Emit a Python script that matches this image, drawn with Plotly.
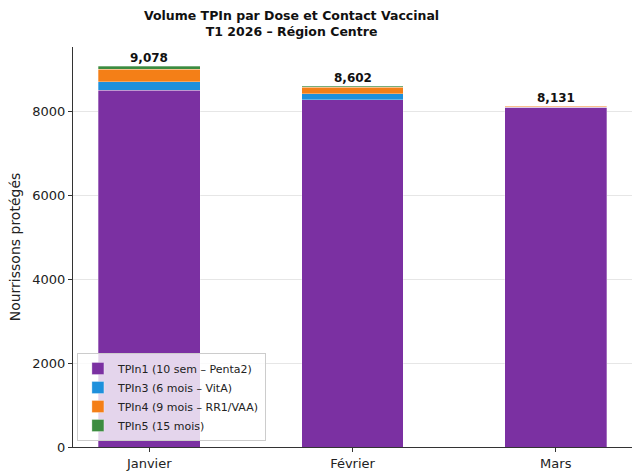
import plotly.graph_objects as go

months = ["Janvier", "Février", "Mars"]
tpin1 = [8500, 8270, 8100]
tpin3 = [200, 150, 0]
tpin4 = [300, 150, 20]
tpin5 = [78, 32, 11]
series_names = ["TPIn1 (10 sem – Penta2)", "TPIn3 (6 mois – VitA)",
                "TPIn4 (9 mois – RR1/VAA)", "TPIn5 (15 mois)"]
colors = ["#7B30A2", "#1E90DC", "#F47F17", "#3C8C40"]
yticks = [0, 2000, 4000, 6000, 8000]

series = [tpin1, tpin3, tpin4, tpin5]
totals = [sum(v) for v in zip(*series)]

FONT = "DejaVu Sans"
fig = go.Figure()
for name, vals, col in zip(series_names, series, colors):
    fig.add_trace(go.Bar(
        x=list(range(len(months))), y=vals, name=name, width=0.5,
        marker=dict(color=col, line=dict(color="rgba(255,255,255,0.6)", width=0.5)),
    ))

for i, t in enumerate(totals):
    fig.add_annotation(x=i, y=t, text=f"<b>{t:,}</b>", showarrow=False,
                       yanchor="bottom", yshift=-1,
                       font=dict(family=FONT, size=12, color="#111"))

fig.add_annotation(xref="paper", yref="paper", x=0.391, y=1.103, xanchor="center",
                   yanchor="top", showarrow=False,
                   text="<b>Volume TPIn par Dose et Contact Vaccinal<br>T1 2026 – Région Centre</b>",
                   font=dict(family=FONT, size=12.5, color="#111"))

ymax = max(totals) * 1.05
fig.update_layout(
    barmode="stack",
    width=632, height=475,
    margin=dict(l=73, r=0, t=47, b=28),
    plot_bgcolor="white", paper_bgcolor="white",
    font=dict(family=FONT, size=12, color="#222"),
    xaxis=dict(range=[-0.375, 2.375], tickvals=list(range(len(months))), ticktext=months,
               showline=True, linecolor="#333", linewidth=1, ticks="outside",
               ticklen=4, tickcolor="#333", showgrid=False, zeroline=False,
               tickfont=dict(size=13, color="#222")),
    yaxis=dict(range=[0, ymax], tickvals=yticks, showline=True, linecolor="#333",
               linewidth=1, ticks="outside", ticklen=4, tickcolor="#333",
               showgrid=True, gridcolor="#e6e6e6", gridwidth=1, zeroline=False,
               title=dict(text="Nourrissons protégés", font=dict(size=14), standoff=8),
               tickfont=dict(size=13, color="#222")),
    legend=dict(x=0.007, y=0.015, xanchor="left", yanchor="bottom",
                bgcolor="rgba(255,255,255,0.8)", bordercolor="#cccccc", borderwidth=1,
                font=dict(family=FONT, size=11, color="#222"), traceorder="normal",
                tracegroupgap=0, itemwidth=30),
    showlegend=True,
)

fig.write_html("out.html", config={"displayModeBar": False},
               post_script="document.body.style.margin='0';document.body.style.overflow='hidden';")
